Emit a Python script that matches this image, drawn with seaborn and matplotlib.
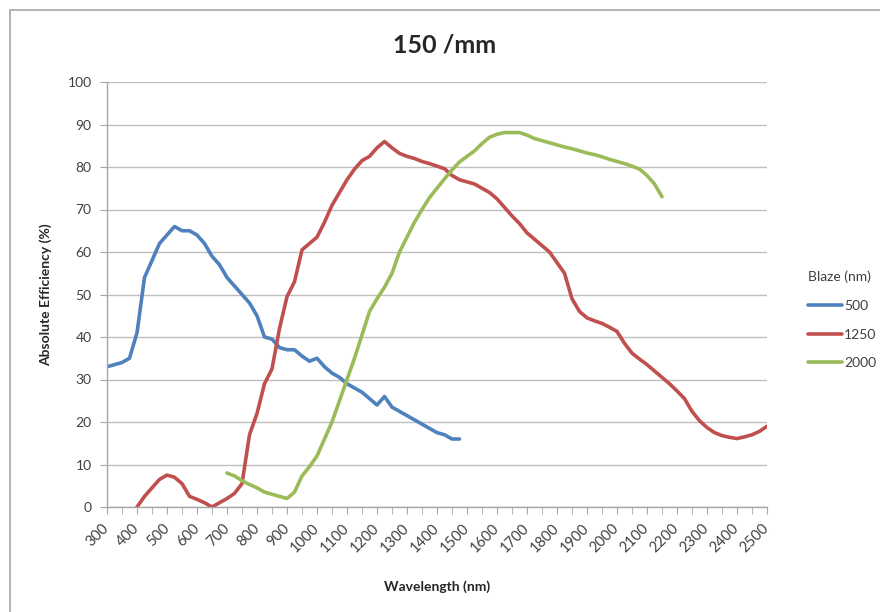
"""Grating efficiency curves, 150 /mm, recreated with seaborn."""

import matplotlib
matplotlib.use("Agg")
import matplotlib.pyplot as plt
from matplotlib.patches import Rectangle
from matplotlib.lines import Line2D
from matplotlib.transforms import ScaledTranslation
import seaborn as sns
import pandas as pd

# Blaze 500 nm
wl_500 = [300, 325, 350, 375, 400, 425, 450, 475, 500, 525, 550, 575, 600, 625, 650,
          675, 700, 725, 750, 775, 800, 825, 850, 875, 900, 925, 950, 975, 1000,
          1025, 1050, 1075, 1100, 1125, 1150, 1175, 1200, 1225, 1250, 1275, 1300,
          1325, 1350, 1375, 1400, 1425, 1450, 1475]
eff_500 = [33, 33.5, 34, 35, 41, 54, 58, 62, 64, 66, 65, 65, 64, 62, 59,
           57, 54, 52, 50, 48, 45, 40, 39.5, 37.5, 37, 37, 35.5, 34.3, 35,
           33, 31.5, 30.5, 29, 28, 27, 25.5, 24, 26, 23.5, 22.5, 21.5,
           20.5, 19.5, 18.5, 17.5, 17, 16, 16]

# Blaze 1250 nm
wl_1250 = [400, 425, 450, 475, 500, 525, 550, 575, 600, 625, 650, 675, 700, 725, 750,
           775, 800, 825, 850, 875, 900, 925, 950, 975, 1000, 1025, 1050, 1075, 1100,
           1125, 1150, 1175, 1200, 1225, 1250, 1275, 1300, 1325, 1350, 1375, 1400,
           1425, 1450, 1475, 1500, 1525, 1550, 1575, 1600, 1625, 1650, 1675, 1700,
           1725, 1750, 1775, 1800, 1825, 1850, 1875, 1900, 1925, 1950, 1975, 2000,
           2025, 2050, 2075, 2100, 2125, 2150, 2175, 2200, 2225, 2250, 2275, 2300,
           2325, 2350, 2375, 2400, 2425, 2450, 2475, 2500]
eff_1250 = [0, 2.5, 4.5, 6.5, 7.5, 7, 5.5, 2.5, 1.8, 1, 0, 1, 2, 3.2, 5.5,
            17, 22, 29, 32.5, 42, 49.5, 53, 60.5, 62, 63.5, 67, 71, 74, 77,
            79.5, 81.5, 82.5, 84.5, 86, 84.5, 83.2, 82.5, 82, 81.3, 80.8, 80.2,
            79.6, 78, 77, 76.5, 76, 75, 74, 72.5, 70.5, 68.5, 66.7, 64.5,
            63, 61.5, 60, 57.5, 55, 49, 46, 44.5, 43.8, 43.2, 42.3, 41.3,
            38.5, 36.2, 34.8, 33.5, 32, 30.5, 29, 27.3, 25.5, 22.5, 20.3, 18.7,
            17.5, 16.8, 16.4, 16.1, 16.5, 17, 17.8, 19]

# Blaze 2000 nm
wl_2000 = [700, 725, 750, 775, 800, 825, 850, 875, 900, 925, 950, 975, 1000, 1025,
           1050, 1075, 1100, 1125, 1150, 1175, 1200, 1225, 1250, 1275, 1300, 1325,
           1350, 1375, 1400, 1425, 1450, 1475, 1500, 1525, 1550, 1575, 1600, 1625,
           1650, 1675, 1700, 1725, 1750, 1775, 1800, 1825, 1850, 1875, 1900, 1925,
           1950, 1975, 2000, 2025, 2050, 2075, 2100, 2125, 2150]
eff_2000 = [8, 7.3, 6.2, 5.3, 4.5, 3.5, 3, 2.5, 2, 3.5, 7.3, 9.5, 12, 16,
            20, 25, 30, 35, 40.5, 46, 49, 51.7, 55, 60, 63.5, 67,
            70, 72.8, 75, 77.2, 79.3, 81.2, 82.5, 83.8, 85.5, 87, 87.7, 88.1,
            88.1, 88.1, 87.5, 86.7, 86.2, 85.7, 85.2, 84.7, 84.3, 83.8, 83.3, 82.9,
            82.4, 81.8, 81.3, 80.8, 80.2, 79.5, 78, 76, 73]

blaze_labels = ["500", "1250", "2000"]
colors = ["#4F81BD", "#C0504D", "#9BBB59"]
x_ticks = list(range(300, 2600, 100))
y_ticks = list(range(0, 110, 10))

frames = []
for lab, wl, eff in zip(blaze_labels, [wl_500, wl_1250, wl_2000], [eff_500, eff_1250, eff_2000]):
    frames.append(pd.DataFrame({"wavelength": wl, "efficiency": eff, "blaze": lab}))
df = pd.concat(frames, ignore_index=True)

sns.set_style("white")
plt.rcParams["font.family"] = ["Lato", "DejaVu Sans"]

fig = plt.figure(figsize=(8.8, 6.12), dpi=100)
# outer chart-area border (right and bottom edges fall outside the image)
fig.patches.append(Rectangle((10 / 880, -0.01), 1.0, 1 - 10 / 612 + 0.01,
                             transform=fig.transFigure, fill=False,
                             edgecolor="#A6A6A6", linewidth=1.2))

ax = fig.add_axes([107 / 880, 1 - 507 / 612, 660 / 880, 425 / 612])
sns.lineplot(data=df, x="wavelength", y="efficiency", hue="blaze",
             palette=dict(zip(blaze_labels, colors)), linewidth=2.6,
             legend=False, ax=ax, solid_capstyle="round")

ax.set_xlim(300, 2500)
ax.set_ylim(0, 100)
ax.set_xticks(x_ticks)
ax.set_xticks(list(range(350, 2500, 100)), minor=True)
ax.set_xticklabels([str(v) for v in x_ticks], rotation=45, ha="right",
                   va="center", rotation_mode="anchor", fontsize=10.5, color="#404040")
shift = ScaledTranslation(7 / 100, 0, fig.dpi_scale_trans)
for lbl in ax.get_xticklabels():
    lbl.set_transform(lbl.get_transform() + shift)
ax.set_yticks(y_ticks)
ax.set_yticklabels([str(v) for v in y_ticks], fontsize=10, color="#404040")
ax.tick_params(axis="x", which="both", length=5, color="#A6A6A6", pad=9, bottom=True)
ax.tick_params(axis="y", length=5, color="#A6A6A6", pad=6, left=True)

ax.yaxis.grid(True, color="#BFBFBF", linewidth=1)
ax.set_axisbelow(True)
for side in ["top", "right"]:
    ax.spines[side].set_visible(False)
for side in ["left", "bottom"]:
    ax.spines[side].set_color("#A6A6A6")
    ax.spines[side].set_linewidth(1)

ax.set_xlabel("Wavelength (nm)", fontsize=10, fontweight="bold", labelpad=18)
ax.set_ylabel("Absolute Efficiency (%)", fontsize=10, fontweight="bold", labelpad=11)
fig.text(445 / 880, 1 - 45 / 612, "150 /mm", ha="center", va="center",
         fontsize=18, fontweight="bold")

handles = [Line2D([0], [0], color=c, linewidth=2.6) for c in colors]
leg = fig.legend(handles, blaze_labels, title="Blaze (nm)", loc="center left",
                 bbox_to_anchor=(795 / 880, 1 - 320 / 612), frameon=False,
                 fontsize=10, title_fontsize=10, handlelength=2.5,
                 handletextpad=0.15, labelspacing=1.2)
leg._legend_box.align = "left"
for t in leg.get_texts():
    t.set_color("#404040")
leg.get_title().set_color("#404040")

fig.savefig("out.png", dpi=100)
